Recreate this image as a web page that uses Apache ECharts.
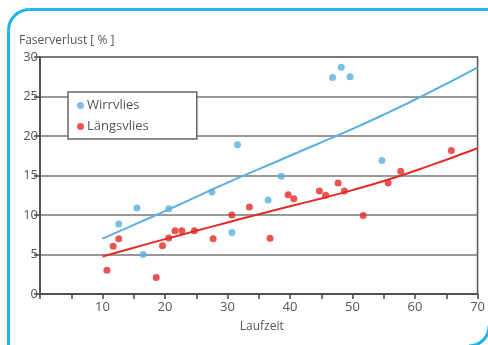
<!DOCTYPE html>
<html>
<head>
<meta charset="utf-8">
<script src="https://cdn.jsdelivr.net/npm/echarts@6/dist/echarts.min.js"></script>
<style>
html,body{margin:0;padding:0;background:#fff;}
#chart{width:488px;height:345px;}
</style>
</head>
<body>
<div id="chart"></div>
<script>
// Scatter data: [Laufzeit, Faserverlust %]
const wirrvliesPoints = [
  [12.6, 8.85], [15.5, 10.9], [16.5, 5.0], [20.6, 10.8], [27.5, 12.9],
  [30.7, 7.8], [31.6, 18.9], [36.5, 11.9], [38.6, 14.9], [46.8, 27.4],
  [48.2, 28.7], [49.6, 27.5], [54.7, 16.9]
];
const laengsvliesPoints = [
  [10.7, 3.0], [11.7, 6.05], [12.6, 7.0], [18.6, 2.1], [19.6, 6.1],
  [20.6, 7.1], [21.6, 8.0], [22.7, 8.0], [24.7, 8.0], [27.7, 7.0],
  [30.7, 10.0], [33.5, 11.0], [36.8, 7.05], [39.7, 12.55], [40.6, 12.05],
  [44.7, 13.05], [45.7, 12.5], [47.7, 14.05], [48.7, 13.05], [51.7, 9.95],
  [55.7, 14.05], [57.7, 15.55], [65.8, 18.15]
];
const trendX = [10, 15, 20, 25, 30, 35, 40, 45, 50, 55, 60, 65, 70];
const wirrvliesTrend = [7.0, 8.75, 10.5, 12.3, 14.1, 15.8, 17.5, 19.2, 20.9, 22.7, 24.6, 26.6, 28.7];
const laengsvliesTrend = [4.75, 5.85, 6.95, 8.0, 9.05, 10.1, 11.1, 12.1, 13.15, 14.3, 15.6, 17.0, 18.45];
const seriesNames = ['Wirrvlies', 'Längsvlies'];
const xTitle = 'Laufzeit';
const yTitle = 'Faserverlust [ % ]';

const BLUE = '#5aafdf';
const RED = '#e42b27';
const FONT = 'Open Sans';
const FRAME = '#1fb3e8';
const frameStyle = { fill: 'none', stroke: FRAME, lineWidth: 3 };

const chart = echarts.init(document.getElementById('chart'));
chart.setOption({
  animation: false,
  textStyle: { fontFamily: FONT },
  graphic: [
    { type: 'line', shape: { x1: 8.5, y1: 30.5, x2: 8.5, y2: 350 }, style: frameStyle, silent: true, z: 100 },
    { type: 'line', shape: { x1: 29.5, y1: 9.5, x2: 495, y2: 9.5 }, style: frameStyle, silent: true, z: 100 },
    { type: 'arc', shape: { cx: 29.5, cy: 30.5, r: 21, startAngle: Math.PI, endAngle: Math.PI * 1.5, clockwise: true }, style: frameStyle, silent: true, z: 100 },
    { type: 'arc', shape: { cx: 469, cy: 326, r: 20, startAngle: 0, endAngle: Math.PI / 2, clockwise: true }, style: frameStyle, silent: true, z: 100 }
  ],
  grid: {
    left: 40, right: 8, top: 57, bottom: 51,
    show: true, borderColor: '#555', borderWidth: 1.5, backgroundColor: 'transparent'
  },
  legend: {
    data: seriesNames,
    orient: 'vertical',
    left: 68, top: 92,
    padding: [7, 48, 6, 9],
    itemWidth: 7, itemHeight: 7, itemGap: 8,
    icon: 'circle',
    backgroundColor: '#fff',
    borderColor: '#666', borderWidth: 1.5,
    textStyle: { fontFamily: FONT, fontSize: 13, color: '#555', padding: [0, 0, 0, -2] }
  },
  xAxis: {
    type: 'value', min: 0, max: 70, interval: 5,
    name: xTitle, nameLocation: 'middle', nameGap: 27,
    nameTextStyle: { fontFamily: FONT, fontSize: 12, color: '#555', padding: [0, 0, 0, 6] },
    axisLine: { lineStyle: { color: '#444', width: 1.5 } },
    axisTick: { show: true, length: 5, lineStyle: { color: '#444', width: 1.5 } },
    axisLabel: {
      fontFamily: FONT, fontSize: 13, color: '#555', margin: 7,
      formatter: v => (v % 10 === 0 && v > 0) ? String(v) : ''
    },
    splitLine: { show: false }
  },
  yAxis: {
    type: 'value', min: 0, max: 30, interval: 5,
    name: yTitle, nameLocation: 'end', nameGap: 10,
    nameTextStyle: { fontFamily: FONT, fontSize: 12, color: '#555', align: 'left', padding: [0, 0, 0, -21] },
    axisLine: { show: true, lineStyle: { color: '#444', width: 1.5 } },
    axisTick: { show: true, length: 6, lineStyle: { color: '#444', width: 1.5 } },
    axisLabel: { fontFamily: FONT, fontSize: 13, color: '#555', margin: 2 },
    splitLine: { show: true, lineStyle: { color: '#777', width: 1.5 } }
  },
  series: [
    {
      name: seriesNames[0], type: 'scatter', data: wirrvliesPoints,
      symbolSize: 7, itemStyle: { color: BLUE }, z: 5
    },
    {
      name: seriesNames[1], type: 'scatter', data: laengsvliesPoints,
      symbolSize: 7, itemStyle: { color: RED }, z: 5
    },
    {
      name: 'trend-w', type: 'line', data: trendX.map((x, i) => [x, wirrvliesTrend[i]]),
      smooth: true, showSymbol: false, symbol: 'none',
      lineStyle: { color: BLUE, width: 2 }, z: 3
    },
    {
      name: 'trend-l', type: 'line', data: trendX.map((x, i) => [x, laengsvliesTrend[i]]),
      smooth: true, showSymbol: false, symbol: 'none',
      lineStyle: { color: RED, width: 2 }, z: 3
    }
  ]
});
</script>
</body>
</html>
